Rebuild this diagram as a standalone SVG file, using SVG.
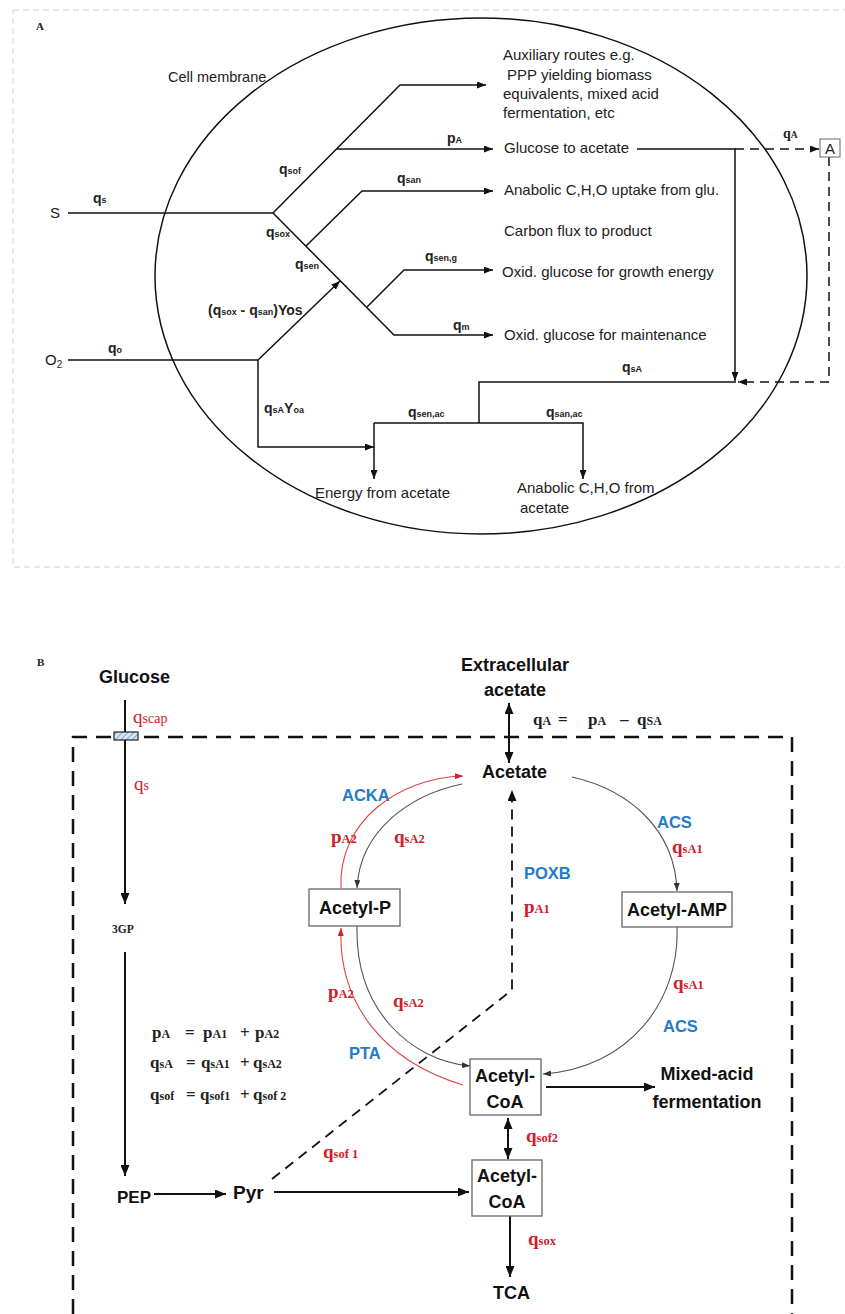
<svg xmlns="http://www.w3.org/2000/svg" width="845" height="1314" viewBox="0 0 845 1314">
<defs>
<style>
.t{font-family:"Liberation Sans",Arial,sans-serif;font-size:15px;fill:#222}
.lb{font-family:"Liberation Sans",Arial,sans-serif;font-size:14px;font-weight:bold;fill:#222}
.sb{font-size:9px}
.ln{stroke:#111;stroke-width:1.5;fill:none}
.ds{stroke:#111;stroke-width:1.5;fill:none;stroke-dasharray:9 6}
.nt{font-family:"Liberation Sans",Arial,sans-serif;font-size:18px;font-weight:bold;fill:#111}
.bl{font-family:"Liberation Sans",Arial,sans-serif;font-size:16.5px;font-weight:bold;fill:#1f7cc8}
.rs{font-family:"Liberation Serif","Times New Roman",serif;font-size:19px;font-weight:bold;fill:#d0202a}
.rsb{font-size:12.5px}
.eq{font-family:"Liberation Serif","Times New Roman",serif;font-size:17px;font-weight:bold;fill:#222}
.eqs{font-size:12px}
.box{fill:#fff;stroke:#666;stroke-width:1.3}
.lnB{stroke:#111;stroke-width:2;fill:none}
.arcK{stroke:#555;stroke-width:1.1;fill:none}
.arcR{stroke:#e04545;stroke-width:1.1;fill:none}
</style>
<marker id="aA" markerUnits="userSpaceOnUse" markerWidth="9" markerHeight="7" refX="9" refY="3.5" orient="auto"><path d="M0,0 L9,3.5 L0,7 z" fill="#111"/></marker>
<marker id="aB" markerUnits="userSpaceOnUse" markerWidth="11" markerHeight="9" refX="11" refY="4.5" orient="auto-start-reverse"><path d="M0,0 L11,4.5 L0,9 z" fill="#111"/></marker>
<marker id="aK" markerUnits="userSpaceOnUse" markerWidth="8" markerHeight="6" refX="8" refY="3" orient="auto"><path d="M0,0 L8,3 L0,6 z" fill="#333"/></marker>
<marker id="aR" markerUnits="userSpaceOnUse" markerWidth="8" markerHeight="6" refX="8" refY="3" orient="auto"><path d="M0,0 L8,3 L0,6 z" fill="#d0202a"/></marker>
<pattern id="hatch" width="4" height="4" patternUnits="userSpaceOnUse" patternTransform="rotate(45)"><rect width="4" height="4" fill="#dbe9f7"/><line x1="0" y1="0" x2="0" y2="4" stroke="#5b93d0" stroke-width="1.6"/></pattern>
</defs>

<!-- ============ PANEL A ============ -->
<g id="panelA">
<rect x="13" y="10" width="840" height="557" fill="none" stroke="#d4d4d4" stroke-width="1" stroke-dasharray="6 4"/>
<text x="36" y="30" style="font-family:'Liberation Serif',serif;font-size:11px;font-weight:bold;fill:#222">A</text>
<g id="membrane">
<ellipse cx="481" cy="276" rx="326" ry="258" fill="none" stroke="#111" stroke-width="1.5"/>
<text class="t" x="168" y="82" style="font-size:14.5px">Cell membrane</text>
</g>
</g>

<g id="A-connectors">
<path class="ln" d="M68,213 H273"/>
<path class="ln" d="M273,213 L400,85 H486" marker-end="url(#aA)"/>
<path class="ln" d="M337,149 H493" marker-end="url(#aA)"/>
<path class="ln" d="M273,213 L394,335 H493" marker-end="url(#aA)"/>
<path class="ln" d="M306,246 L362,191 H493" marker-end="url(#aA)"/>
<path class="ln" d="M367,307 L404,270 H493" marker-end="url(#aA)"/>
<path class="ln" d="M68,360 H258"/>
<path class="ln" d="M258,360 L340,281" marker-end="url(#aA)"/>
<path class="ln" d="M258,360 V447 H374" marker-end="url(#aA)"/>
<path class="ln" d="M374,423 V479" marker-end="url(#aA)"/>
<path class="ln" d="M374,423 H583 V479" marker-end="url(#aA)"/>
<path class="ln" d="M479,423 V382 H736"/>
<path class="ln" d="M637,149 H735 V381" marker-end="url(#aA)"/>
<path class="ds" d="M735,149 H819" marker-end="url(#aA)"/>
<path class="ds" d="M829,157 V382 H738" marker-end="url(#aA)"/>
</g>

<g id="A-labels">
<text class="t" x="50" y="218">S</text>
<text class="t" x="45" y="365">O<tspan style="font-size:10px" dy="3">2</tspan></text>
<text class="lb" x="93" y="203">q<tspan class="sb">s</tspan></text>
<text class="lb" x="108" y="353">q<tspan class="sb">o</tspan></text>
<text class="lb" x="279" y="174">q<tspan class="sb">sof</tspan></text>
<text class="lb" x="266" y="237">q<tspan class="sb">sox</tspan></text>
<text class="lb" x="295" y="269">q<tspan class="sb">sen</tspan></text>
<text class="lb" x="447" y="143">p<tspan class="sb">A</tspan></text>
<text class="lb" x="397" y="183">q<tspan class="sb">san</tspan></text>
<text class="lb" x="425" y="261">q<tspan class="sb">sen,g</tspan></text>
<text class="lb" x="453" y="330">q<tspan class="sb">m</tspan></text>
<text class="lb" x="208" y="315">(q<tspan class="sb">sox</tspan> - q<tspan class="sb">san</tspan>)Yos</text>
<text class="lb" x="264" y="413">q<tspan class="sb">sA</tspan>Y<tspan class="sb">oa</tspan></text>
<text class="lb" x="408" y="417">q<tspan class="sb">sen,ac</tspan></text>
<text class="lb" x="546" y="417">q<tspan class="sb">san,ac</tspan></text>
<text class="lb" x="622" y="372">q<tspan class="sb">sA</tspan></text>
<text x="783" y="138" style="font-family:'Liberation Serif',serif;font-size:14px;font-weight:bold;fill:#222">q<tspan style="font-size:9.5px">A</tspan></text>
</g>

<g id="A-outputs">
<text class="t" x="503" y="60">Auxiliary routes e.g.</text>
<text class="t" x="507" y="80">PPP yielding biomass</text>
<text class="t" x="503" y="99">equivalents, mixed acid</text>
<text class="t" x="503" y="118">fermentation, etc</text>
<text class="t" x="504" y="153">Glucose to acetate</text>
<text class="t" x="504" y="195">Anabolic C,H,O uptake from glu.</text>
<text class="t" x="504" y="236">Carbon flux to product</text>
<text class="t" x="502" y="277">Oxid. glucose for growth energy</text>
<text class="t" x="504" y="340">Oxid. glucose for maintenance</text>
<text class="t" x="315" y="498">Energy from acetate</text>
<text class="t" x="517" y="493">Anabolic C,H,O from</text>
<text class="t" x="520" y="513">acetate</text>
</g>
<g id="A-box">
<rect x="820" y="139" width="20" height="18" fill="#fff" stroke="#666" stroke-width="1"/>
<text class="t" x="830" y="154" text-anchor="middle">A</text>
</g>

<!-- ============ PANEL B ============ -->
<text x="37" y="666" style="font-family:'Liberation Serif',serif;font-size:11px;font-weight:bold;fill:#222">B</text>
<g id="cell-boundary">
<path d="M73,1314 V737 H792 V1314" fill="none" stroke="#111" stroke-width="2.5" stroke-dasharray="15 9"/>
</g>

<g id="B-connectors">
<path class="lnB" d="M125,700 V904" marker-end="url(#aB)"/>
<path class="lnB" d="M125,952 V1176" marker-end="url(#aB)"/>
<path class="lnB" d="M154,1194 H226" marker-end="url(#aB)"/>
<path class="lnB" d="M274,1192 H469" marker-end="url(#aB)"/>
<path class="lnB" d="M509,703 V763" marker-start="url(#aB)" marker-end="url(#aB)"/>
<path class="lnB" d="M508,1118 V1159" marker-start="url(#aB)" marker-end="url(#aB)"/>
<path class="lnB" d="M510,1216 V1277" marker-end="url(#aB)"/>
<path class="lnB" d="M546,1087 H655" marker-end="url(#aB)"/>
<path d="M272,1179 L512,990 V790" fill="none" stroke="#111" stroke-width="1.8" stroke-dasharray="10 7" marker-end="url(#aB)"/>
<path class="arcK" d="M572,777 C630,790 675,830 677,891" marker-end="url(#aK)"/>
<path class="arcK" d="M677,927 C680,1000 630,1068 543,1074" marker-end="url(#aK)"/>
<path class="arcK" d="M462,784 C410,795 360,830 357,888" marker-end="url(#aK)"/>
<path class="arcK" d="M357,926 C355,1010 410,1060 470,1066" marker-end="url(#aK)"/>
<path class="arcR" d="M341,888 C338,820 400,778 463,776" marker-end="url(#aR)"/>
<path class="arcR" d="M463,1085 C380,1060 338,1000 341,928" marker-end="url(#aR)"/>
</g>

<g id="transporter">
<rect x="114" y="732" width="24" height="8" fill="url(#hatch)" stroke="#222" stroke-width="1.2"/>
</g>

<g id="glucose"><text class="nt" x="99" y="683">Glucose</text></g>
<g id="g3p"><text x="112" y="933" style="font-family:'Liberation Serif',serif;font-size:11.5px;font-weight:bold;fill:#222">3GP</text></g>
<g id="pep"><text class="nt" x="117" y="1203" style="font-size:17px">PEP</text></g>
<g id="pyr"><text class="nt" x="233" y="1199" style="font-size:19px">Pyr</text></g>
<g id="extracellular">
<text class="nt" x="515" y="671" text-anchor="middle">Extracellular</text>
<text class="nt" x="515" y="696" text-anchor="middle">acetate</text>
</g>
<g id="acetate"><text class="nt" x="482" y="778">Acetate</text></g>
<g id="acetyl-p">
<rect class="box" x="309" y="889" width="91" height="37"/>
<text class="nt" x="355" y="914" text-anchor="middle">Acetyl-P</text>
</g>
<g id="acetyl-amp">
<rect class="box" x="622" y="892" width="110" height="35"/>
<text class="nt" x="677" y="916" text-anchor="middle">Acetyl-AMP</text>
</g>
<g id="acetyl-coa-1">
<rect class="box" x="470" y="1059" width="71" height="56"/>
<text class="nt" x="505" y="1082" text-anchor="middle">Acetyl-</text>
<text class="nt" x="505" y="1108" text-anchor="middle">CoA</text>
</g>
<g id="acetyl-coa-2">
<rect class="box" x="472" y="1160" width="70" height="56"/>
<text class="nt" x="507" y="1182" text-anchor="middle">Acetyl-</text>
<text class="nt" x="507" y="1208" text-anchor="middle">CoA</text>
</g>
<g id="mixed-acid">
<text class="nt" x="707" y="1080" text-anchor="middle">Mixed-acid</text>
<text class="nt" x="707" y="1108" text-anchor="middle">fermentation</text>
</g>
<g id="tca"><text class="nt" x="493" y="1299">TCA</text></g>

<g id="B-labels">
<text class="rs" x="133" y="723" style="font-weight:normal">q<tspan class="rsb" style="font-size:14px">scap</tspan></text>
<text class="rs" x="134" y="790" style="font-weight:normal">q<tspan class="rsb" style="font-size:14px">s</tspan></text>
<text class="eq" x="533" y="725">q<tspan class="eqs">A</tspan></text>
<text class="eq" x="558" y="725">=</text>
<text class="eq" x="588" y="725">p<tspan class="eqs">A</tspan></text>
<text class="eq" x="620" y="725">–</text>
<text class="eq" x="637" y="725">q<tspan class="eqs">SA</tspan></text>

<text class="bl" x="342" y="801">ACKA</text>
<text class="bl" x="524" y="879">POXB</text>
<text class="bl" x="657" y="828">ACS</text>
<text class="bl" x="663" y="1032">ACS</text>
<text class="bl" x="349" y="1059">PTA</text>

<text class="rs" x="331" y="843">p<tspan class="rsb">A2</tspan></text>
<text class="rs" x="394" y="843">q<tspan class="rsb">sA2</tspan></text>
<text class="rs" x="524" y="913">p<tspan class="rsb">A1</tspan></text>
<text class="rs" x="672" y="853">q<tspan class="rsb">sA1</tspan></text>
<text class="rs" x="673" y="989">q<tspan class="rsb">sA1</tspan></text>
<text class="rs" x="328" y="998">p<tspan class="rsb">A2</tspan></text>
<text class="rs" x="393" y="1007">q<tspan class="rsb">sA2</tspan></text>
<text class="rs" x="323" y="1158">q<tspan class="rsb">sof 1</tspan></text>
<text class="rs" x="526" y="1142">q<tspan class="rsb">sof2</tspan></text>
<text class="rs" x="528" y="1245">q<tspan class="rsb">sox</tspan></text>
</g>

<g id="equations">
<text class="eq" x="152" y="1038">p<tspan class="eqs">A</tspan></text>
<text class="eq" x="185" y="1038">=</text>
<text class="eq" x="203" y="1038">p<tspan class="eqs">A1</tspan></text>
<text class="eq" x="240" y="1038">+</text>
<text class="eq" x="255" y="1038">p<tspan class="eqs">A2</tspan></text>
<text class="eq" x="150" y="1068">q<tspan class="eqs">sA</tspan></text>
<text class="eq" x="186" y="1068">=</text>
<text class="eq" x="201" y="1068">q<tspan class="eqs">sA1</tspan></text>
<text class="eq" x="240" y="1068">+</text>
<text class="eq" x="253" y="1068">q<tspan class="eqs">sA2</tspan></text>
<text class="eq" x="150" y="1100">q<tspan class="eqs">sof</tspan></text>
<text class="eq" x="186" y="1100">=</text>
<text class="eq" x="200" y="1100">q<tspan class="eqs">sof1</tspan></text>
<text class="eq" x="240" y="1100">+</text>
<text class="eq" x="253" y="1100">q<tspan class="eqs">sof 2</tspan></text>
</g>
</svg>
